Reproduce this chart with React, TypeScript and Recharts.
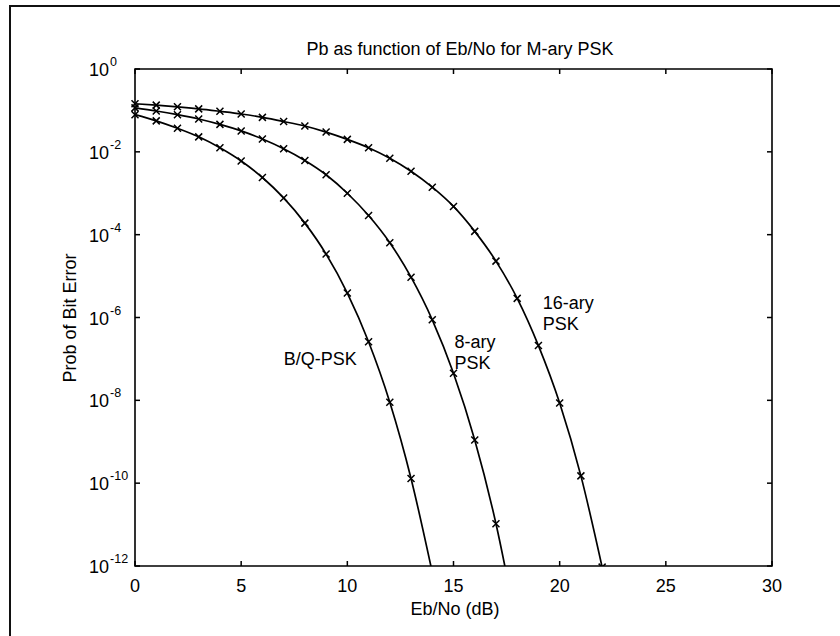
import React from "react";
import {
  LineChart,
  Line,
  XAxis,
  YAxis,
  ReferenceArea,
  ReferenceDot,
} from "recharts";

// Eb/No in dB, one marker per dB
const ebno = [0, 1, 2, 3, 4, 5, 6, 7, 8, 9, 10, 11, 12, 13, 14, 15, 16, 17, 18, 19, 20, 21, 22];

// bit error probability per curve
const bpsk = [
  0.079, 0.056, 0.037, 0.023, 0.0125, 0.006, 0.0024, 7.7e-4, 1.9e-4, 3.4e-5,
  3.9e-6, 2.6e-7, 9e-9, 1.3e-10, 7e-13,
];
const psk8 = [
  0.115, 0.097, 0.079, 0.062, 0.046, 0.032, 0.0204, 0.0119, 0.0062, 0.0028,
  1.0e-3, 2.9e-4, 6.4e-5, 9.4e-6, 8.8e-7, 4.5e-8, 1.1e-9, 1.05e-11, 3e-14,
];
const psk16 = [
  0.145, 0.134, 0.122, 0.109, 0.095, 0.082, 0.068, 0.054, 0.042, 0.03, 0.02,
  0.0126, 0.007, 0.0034, 0.0014, 4.8e-4, 1.2e-4, 2.3e-5, 2.9e-6, 2.1e-7,
  8.6e-9, 1.5e-10, 9.4e-13,
];

const xTicks = [0, 5, 10, 15, 20, 25, 30];
const yTicks = [1, 1e-2, 1e-4, 1e-6, 1e-8, 1e-10, 1e-12];

// curve annotations, anchored left/middle in data units
const notes = [
  { x: 7, y: 1e-7, lines: ["B/Q-PSK"] },
  { x: 15.05, y: 1.5e-7, lines: ["8-ary", "PSK"] },
  { x: 19.2, y: 1.3e-6, lines: ["16-ary", "PSK"] },
];

const rows = ebno.map((x, i) => ({
  ebno: x,
  bpsk: bpsk[i],
  psk8: psk8[i],
  psk16: psk16[i],
}));

const W = 840;
const H = 636;
const X_AXIS_H = 40;
const Y_AXIS_W = 60;
const margin = { top: 69, right: 68, bottom: 70 - X_AXIS_H, left: 135 - Y_AXIS_W };
const plotW = W - 135 - margin.right;
const plotH = H - margin.top - 70;
const font = "'Liberation Sans', Arial, Helvetica, sans-serif";
const TICK = 5;

const XTick = (props: any) => {
  const { x, y, payload } = props;
  return (
    <g>
      <line x1={x} x2={x} y1={y} y2={y - TICK} stroke="#000" strokeWidth={1.5} />
      <line x1={x} x2={x} y1={y - plotH} y2={y - plotH + TICK} stroke="#000" strokeWidth={1.5} />
      <text x={x} y={y + 26} textAnchor="middle" fontFamily={font} fontSize={18} fill="#000">
        {payload.value}
      </text>
    </g>
  );
};

const YTick = (props: any) => {
  const { x, y, payload } = props;
  const exp = Math.round(Math.log10(payload.value));
  return (
    <g>
      <line x1={x} x2={x + TICK} y1={y} y2={y} stroke="#000" strokeWidth={1.5} />
      <line x1={x + plotW} x2={x + plotW - TICK} y1={y} y2={y} stroke="#000" strokeWidth={1.5} />
      <text x={x - 46} y={y + 7} fontFamily={font} fontSize={18} fill="#000">
        <tspan>10</tspan>
        <tspan dx={1} dy={-10} fontSize={12.5}>
          {exp}
        </tspan>
      </text>
    </g>
  );
};

const Cross = (props: any) => {
  const { cx, cy, index } = props;
  if (cx == null || cy == null) return <g key={index} />;
  const s = 3.5;
  return (
    <path
      key={index}
      d={`M${cx - s},${cy - s}L${cx + s},${cy + s}M${cx - s},${cy + s}L${cx + s},${cy - s}`}
      stroke="#000"
      strokeWidth={1.5}
      fill="none"
    />
  );
};

const Note = (lines: string[]) => (props: any) => {
  const { cx, cy } = props;
  const gap = 21;
  const first = cy + 6.5 - ((lines.length - 1) * gap) / 2;
  return (
    <text fontFamily={font} fontSize={18} fill="#000">
      {lines.map((t, i) => (
        <tspan key={t} x={cx} y={first + i * gap}>
          {t}
        </tspan>
      ))}
    </text>
  );
};

const series = ["bpsk", "psk8", "psk16"];

export default function App() {
  return (
    <div style={{ position: "absolute", left: 0, top: 0, width: W, height: H, background: "#fff" }}>
      <div
        style={{
          position: "absolute",
          left: 9,
          top: 5,
          width: W,
          height: 629,
          borderTop: "2px solid #111",
          borderLeft: "2px solid #111",
          borderBottom: "1px solid #bbb",
        }}
      />
      <svg
        width={W}
        height={H}
        style={{ position: "absolute", left: 0, top: 0 }}
        fontFamily={font}
        fontSize={18}
      >
        <text x={460} y={55} textAnchor="middle" fill="#000">
          Pb as function of Eb/No for M-ary PSK
        </text>
        <text x={455} y={615} textAnchor="middle" fill="#000">
          Eb/No (dB)
        </text>
        <text x={76} y={318} textAnchor="middle" fill="#000" transform="rotate(-90 76 318)">
          Prob of Bit Error
        </text>
      </svg>
      <div style={{ position: "absolute", left: 0, top: 0 }}>
        <LineChart width={W} height={H} data={rows} margin={margin}>
          <XAxis
            dataKey="ebno"
            type="number"
            domain={[0, 30]}
            ticks={xTicks}
            interval={0}
            height={X_AXIS_H}
            tickSize={0}
            tickMargin={0}
            axisLine={false}
            tickLine={false}
            tick={XTick}
          />
          <YAxis
            type="number"
            scale="log"
            domain={[1e-12, 1]}
            ticks={yTicks}
            interval={0}
            allowDataOverflow
            width={Y_AXIS_W}
            tickSize={0}
            tickMargin={0}
            axisLine={false}
            tickLine={false}
            tick={YTick}
          />
          <ReferenceArea
            x1={0}
            x2={30}
            y1={1e-12}
            y2={1}
            fill="none"
            stroke="#000"
            strokeWidth={1.6}
            ifOverflow="visible"
          />
          {series.map((k) => (
            <Line
              key={k}
              dataKey={k}
              type="monotone"
              stroke="#000"
              strokeWidth={1.7}
              dot={Cross}
              activeDot={false}
              isAnimationActive={false}
            />
          ))}
          {notes.map((n) => (
            <ReferenceDot
              key={n.lines.join(" ")}
              x={n.x}
              y={n.y}
              r={0}
              ifOverflow="visible"
              shape={Note(n.lines)}
            />
          ))}
        </LineChart>
      </div>
    </div>
  );
}
